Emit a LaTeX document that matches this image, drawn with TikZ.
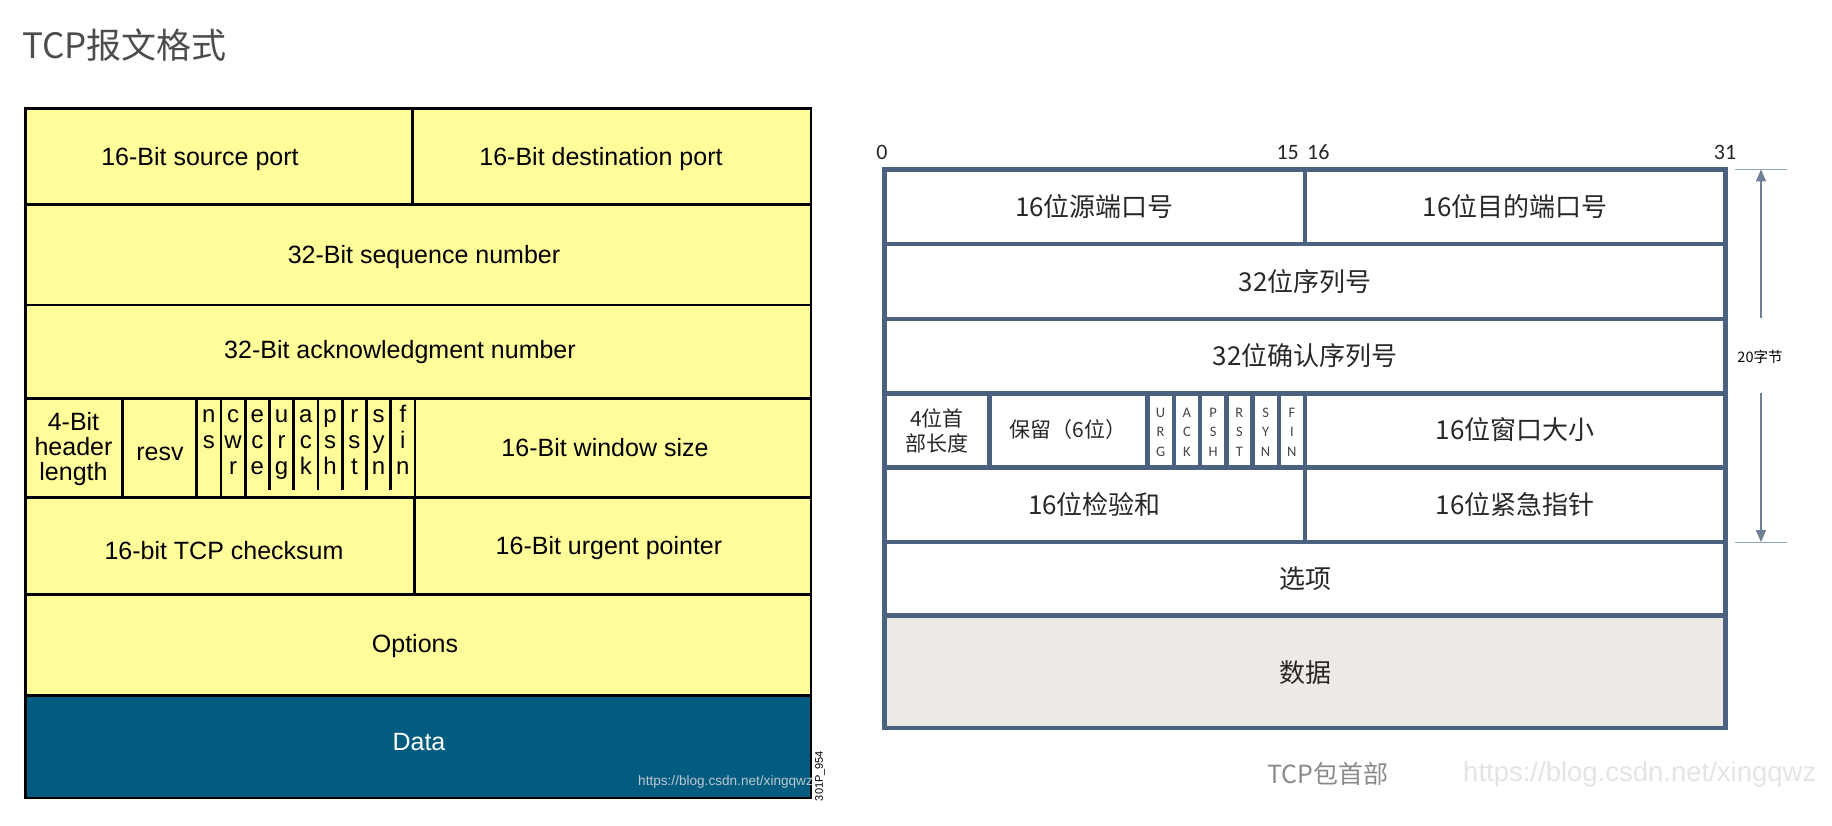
\documentclass[tikz,border=0pt]{standalone}
\usepackage{fontspec}
\setmainfont{Liberation Sans}
\newfontfamily\cjk{Noto Sans CJK SC}
\newfontfamily\cali{Carlito}
\usetikzlibrary{arrows.meta}
\definecolor{cellyellow}{RGB}{255,253,153}
\definecolor{datablue}{RGB}{2,92,128}
\definecolor{frameblue}{RGB}{74,98,128}
\definecolor{databeige}{RGB}{238,233,229}
\definecolor{titlegray}{RGB}{77,77,77}
\definecolor{captiongray}{RGB}{138,138,138}
\definecolor{wmgray}{RGB}{228,228,228}
\definecolor{wmlight}{RGB}{190,200,208}
\definecolor{cntext}{RGB}{40,40,40}
\definecolor{flaggray}{RGB}{70,70,70}
\definecolor{dimcol}{RGB}{110,128,150}
\definecolor{tickcol}{RGB}{150,165,180}
\tikzset{
  lline/.style={line width=2.8pt, draw=black, line join=miter},
  rline/.style={line width=4.5pt, draw=frameblue, line join=miter},
  ltext/.style={font=\fontsize{25}{26}\selectfont, text=black, inner sep=0pt, align=center},
  lflag/.style={font=\fontsize{24}{26}\selectfont, text=black, inner sep=0pt, anchor=base},
  rtext/.style={font=\cjk\fontsize{26}{28}\selectfont, text=cntext, inner sep=0pt},
  rsmall/.style={font=\cjk\fontsize{21}{25}\selectfont, text=cntext, inner sep=0pt, align=center},
  rflag/.style={font=\cali\fontsize{14.5}{19.5}\selectfont, text=flaggray, inner sep=0pt, align=center},
  bitnum/.style={font=\cali\fontsize{22}{24}\selectfont, text=black!85, inner sep=0pt},
  dimarrow/.style={draw=dimcol, line width=1.3pt, -{Triangle[length=12pt,width=10pt]}},
  dimtick/.style={draw=tickcol, line width=1pt},
}
\begin{document}
\begin{tikzpicture}[x=1pt,y=-1pt]
\useasboundingbox (0,0) rectangle (1832,826);

% title
\node[font=\cjk\fontsize{35}{37}\selectfont, text=titlegray, anchor=west, inner sep=0pt] (title) at (22,45) {TCP报文格式};

% ---------------- left diagram ----------------
\fill[cellyellow] (25.7,108.7) rectangle (811,695.2);
\fill[datablue] (25.7,695.2) rectangle (811,798);
\foreach \y in {204.5,305,398.4,497.7,594.7,695.2}
  \draw[lline] (25.7,\y) -- (811,\y);
\draw[lline] (412.4,108.7) -- (412.4,204.5);
\draw[lline] (414.8,497.7) -- (414.8,594.7);
\draw[lline] (122.3,398.4) -- (122.3,497.7);
\foreach \k in {0,1,2,9}
  \draw[lline] ({196.7+24.26*\k},398.4) -- ({196.7+24.26*\k},497.7);
\foreach \k in {3,...,8}
  \draw[lline] ({196.7+24.26*\k},398.4) -- ({196.7+24.26*\k},490);
\draw[lline] (25.7,108.7) rectangle (811,798);

\node[ltext] (srcport) at (200,159.5) {16-Bit source port};
\node[ltext] (dstport) at (601,159.5) {16-Bit destination port};
\node[ltext] (seqnum) at (424,257.5) {32-Bit sequence number};
\node[ltext] (acknum) at (400,352.5) {32-Bit acknowledgment number};
\node[ltext, font=\fontsize{25}{25}\selectfont] (hdrlen) at (73.5,449) {4-Bit\\header\\length};
\node[ltext] (resv) at (160,454) {resv};
\node[ltext] (winsize) at (605,448) {16-Bit window size};
\node[ltext] (checksum) at (224,551) {16-bit TCP checksum};
\node[ltext] (urgptr) at (609,548) {16-Bit urgent pointer};
\node[ltext] (options) at (415,646) {Options};
\node[ltext, text=white] (data) at (419,742) {Data};

% flags (left)
\foreach \name/\a/\b/\c [count=\i from 0] in {ns/n/s/{},cwr/c/w/r,ece/e/c/e,urg/u/r/g,ack/a/c/k,psh/p/s/h,rst/r/s/t,syn/s/y/n,fin/f/i/n}{
  \node[lflag] (lf\name1) at ({196.7+24.26*(\i+0.5)},422) {\a};
  \node[lflag] (lf\name2) at ({196.7+24.26*(\i+0.5)},448) {\b};
  \node[lflag] (lf\name3) at ({196.7+24.26*(\i+0.5)},474) {\c};
}

\node[font=\fontsize{13.6}{15}\selectfont, text=wmlight, anchor=west, inner sep=0pt] (wmleft) at (638,782) {https://blog.csdn.net/xingqwz};
\node[font=\fontsize{11}{12}\selectfont, text=black, rotate=90, inner sep=0pt] (figid) at (820,776) {301P\_954};

% ---------------- right diagram ----------------
\fill[white] (884.5,169.4) rectangle (1725.7,615.7);
\fill[databeige] (884.5,615.7) rectangle (1725.7,727.9);
\foreach \y in {244.2,319,393.7,467.4,542.1,615.7}
  \draw[rline] (884.5,\y) -- (1725.7,\y);
\draw[rline] (1305,169.4) -- (1305,244.2);
\draw[rline] (1305,467.4) -- (1305,542.1);
\draw[rline] (989.6,393.7) -- (989.6,467.4);
\foreach \k in {0,...,6}
  \draw[rline] ({1147.5+26.25*\k},393.7) -- ({1147.5+26.25*\k},467.4);
\draw[rline] (884.5,169.4) rectangle (1725.7,727.9);

\node[bitnum] (b0) at (882,152) {0};
\node[bitnum, anchor=east] (b15) at (1299,152) {15};
\node[bitnum, anchor=west] (b16) at (1307,152) {16};
\node[bitnum] (b31) at (1725,152) {31};

\node[rtext] (rsrc) at (1094.5,207) {16位源端口号};
\node[rtext] (rdst) at (1515,207) {16位目的端口号};
\node[rtext] (rseq) at (1305,282) {32位序列号};
\node[rtext] (rack) at (1305,356) {32位确认序列号};
\node[rsmall] (rhdr) at (937,431) {4位首\\部长度};
\node[rsmall] (rresv) at (1068,430) {保留（6位）};
\node[rtext] (rwin) at (1515,430) {16位窗口大小};
\node[rtext] (rchk) at (1094.5,505) {16位检验和};
\node[rtext] (rurg) at (1515,505) {16位紧急指针};
\node[rtext] (ropt) at (1305,579) {选项};
\node[rtext] (rdata) at (1305,673) {数据};

\foreach \name/\txt [count=\i from 0] in {urg/{U\\R\\G},ack/{A\\C\\K},psh/{P\\S\\H},rst/{R\\S\\T},syn/{S\\Y\\N},fin/{F\\I\\N}}
  \node[rflag] (rf\name) at ({1147.5+26.25*(\i+0.5)},432) {\txt};

% dimension arrow
\coordinate (dimtop) at (1761,169.4);
\coordinate (dimtopstart) at (1761,318);
\coordinate (dimbot) at (1761,542.1);
\coordinate (dimbotstart) at (1761,393);
\coordinate (ticktopL) at (1735,169.4);
\coordinate (ticktopR) at (1787,169.4);
\coordinate (tickbotL) at (1735,542.1);
\coordinate (tickbotR) at (1787,542.1);
\draw[dimtick] (ticktopL) -- (ticktopR);
\draw[dimtick] (tickbotL) -- (tickbotR);
\draw[dimarrow] (dimtopstart) -- (dimtop);
\draw[dimarrow] (dimbotstart) -- (dimbot);
\node[font=\cjk\fontsize{14.5}{16}\selectfont, text=black, inner sep=0pt] (dimlabel) at (1760,357) {20字节};

\node[font=\cjk\fontsize{25}{27}\selectfont, text=captiongray, inner sep=0pt] (caption) at (1328,774) {TCP包首部};
\node[font=\fontsize{27.5}{29}\selectfont, text=wmgray, anchor=west, inner sep=0pt] (wmright) at (1463,774) {https://blog.csdn.net/xingqwz};
\end{tikzpicture}
\end{document}
